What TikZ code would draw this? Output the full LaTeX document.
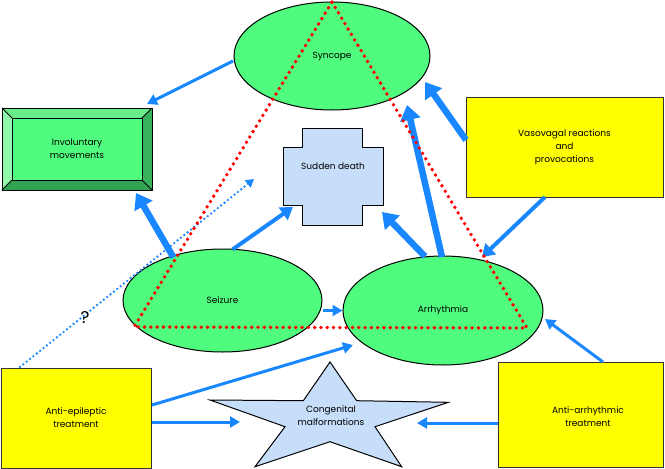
\documentclass[tikz,border=0pt]{standalone}
\usepackage{fontspec}
\setmainfont{Poppins}
\usetikzlibrary{shapes.geometric,arrows.meta,calc}
\definecolor{ngreen}{RGB}{80,252,125}
\definecolor{nblue}{RGB}{25,135,255}
\definecolor{nyellow}{RGB}{255,255,0}
\definecolor{lblue}{RGB}{198,222,250}
\definecolor{bevtop}{RGB}{105,236,138}
\definecolor{bevleft}{RGB}{145,247,170}
\definecolor{bevright}{RGB}{58,178,92}
\definecolor{bevbot}{RGB}{48,162,80}
\begin{document}
\begin{tikzpicture}[x=1pt,y=-1pt,
  lbl/.style={font=\fontsize{9}{13}\selectfont, align=center, inner sep=0pt},
  oval/.style={ellipse, draw=black, line width=1pt, fill=ngreen, lbl},
  ybox/.style={rectangle, draw=black!80, line width=1pt, fill=nyellow, lbl},
  outl/.style={draw=black, line width=1pt, line join=miter},
  conthin/.style={draw=nblue, line width=3pt, -{Triangle[length=10pt,width=11pt]}},
  conmid/.style={draw=nblue, line width=4pt, -{Triangle[length=12pt,width=15pt]}},
  conthick/.style={draw=nblue, line width=6.5pt, -{Triangle[length=15pt,width=20pt]}},
  condots/.style={draw=nblue, line width=2.6pt, line cap=round, dash pattern=on 0pt off 4.3pt, -{Triangle[length=8pt,width=9pt]}},
  reddots/.style={draw=red, line width=3.8pt, line cap=round, dash pattern=on 0pt off 6.3pt},
]
\useasboundingbox (0,0) rectangle (665,469);

% bevelled box
\fill[bevtop] (2,108) -- (152,108) -- (142,118) -- (12,118) -- cycle;
\fill[bevleft] (2,108) -- (12,118) -- (12,180) -- (2,190) -- cycle;
\fill[bevright] (152,108) -- (152,190) -- (142,180) -- (142,118) -- cycle;
\fill[bevbot] (2,190) -- (12,180) -- (142,180) -- (152,190) -- cycle;
\fill[ngreen] (12,118) rectangle (142,180);
\draw[outl] (2,108) rectangle (152,190);
\draw[outl] (12,118) rectangle (142,180);
\draw[outl] (2,108) -- (12,118) (152,108) -- (142,118) (2,190) -- (12,180) (152,190) -- (142,180);
\node[lbl] (inv) at (77,149) {Involuntary\\movements};

% ovals
\node[oval, minimum width=196pt, minimum height=108pt] (syn) at (332,56) {Syncope};
\node[oval, minimum width=199pt, minimum height=103pt] (seiz) at (222.5,300.5) {Seizure};
\node[oval, minimum width=200pt, minimum height=109pt] (arr) at (443,310.5) {Arrhythmia};

% sudden death cross
\draw[outl, fill=lblue] (302,128) -- (362,128) -- (362,147) -- (383,147) -- (383,205) -- (362,205)
  -- (362,225) -- (302,225) -- (302,205) -- (283,205) -- (283,147) -- (302,147) -- cycle;
\node[lbl] (sd) at (333,166) {Sudden death};

% yellow boxes
\node[ybox, minimum width=197pt, minimum height=100pt] (vv) at (564.5,147) {Vasovagal reactions\\and\\provocations};
\node[ybox, minimum width=150pt, minimum height=100pt] (ae) at (76,418) {Anti-epileptic\\treatment};
\node[ybox, minimum width=165pt, minimum height=105pt] (aa) at (580.5,414.5) {};
\node[lbl] (aat) at (588,417) {Anti-arrhythmic\\treatment};

% star
\draw[outl, fill=lblue] (330,362) -- (356.7,400.7) -- (448.3,402.3) -- (375,426.7) -- (401.7,466.7)
  -- (330,441.7) -- (255,466.7) -- (285,426.7) -- (210,400) -- (303.3,400.7) -- cycle;
\node[lbl] (cm) at (331,416) {Congenital\\malformations};

% connectors
\coordinate (qend) at (254,179);
\draw[condots] ($(ae)+(-56,-51)$) -- (qend);
\node[font=\fontsize{17}{18}\selectfont, inner sep=0pt] (qm) at (85,318) {?};

\draw[conthin] ($(syn)+(-99,5)$) -- ($(inv)+(70,-45)$);
\draw[conthick] ($(seiz)+(-49,-43)$) -- ($(inv)+(59,44)$);
\draw[conmid] ($(seiz)+(10,-51)$) -- ($(sd)+(-40,41)$);
\draw[conthin] (seiz.east |- arr.west) -- (arr.west);
\draw[conthin] ($(ae)+(76,-13)$) -- ($(arr)+(-90,34.5)$);
\draw[conthin] ($(ae)+(76,4)$) -- ($(cm)+(-91,6)$);
\draw[conthin] ($(aa)+(-82.5,8.5)$) -- ($(cm)+(86,7)$);
\draw[conthin] ($(aa)+(22.5,-52.5)$) -- ($(arr)+(102,8.5)$);
\draw[conmid] ($(vv)+(-19.5,50)$) -- ($(arr)+(39,-53.5)$);
\draw[conthick] ($(vv)+(-98.5,-7)$) -- ($(syn)+(93,26)$);
\draw[conthick] ($(arr)+(-1,-53.5)$) -- ($(syn)+(75,49)$);
\draw[conthick] ($(arr)+(-18,-54)$) -- ($(sd)+(49,46)$);

% red dotted triangle
\draw[reddots] (332,2) -- (527,328) -- (134,327) -- cycle;
\end{tikzpicture}
\end{document}
